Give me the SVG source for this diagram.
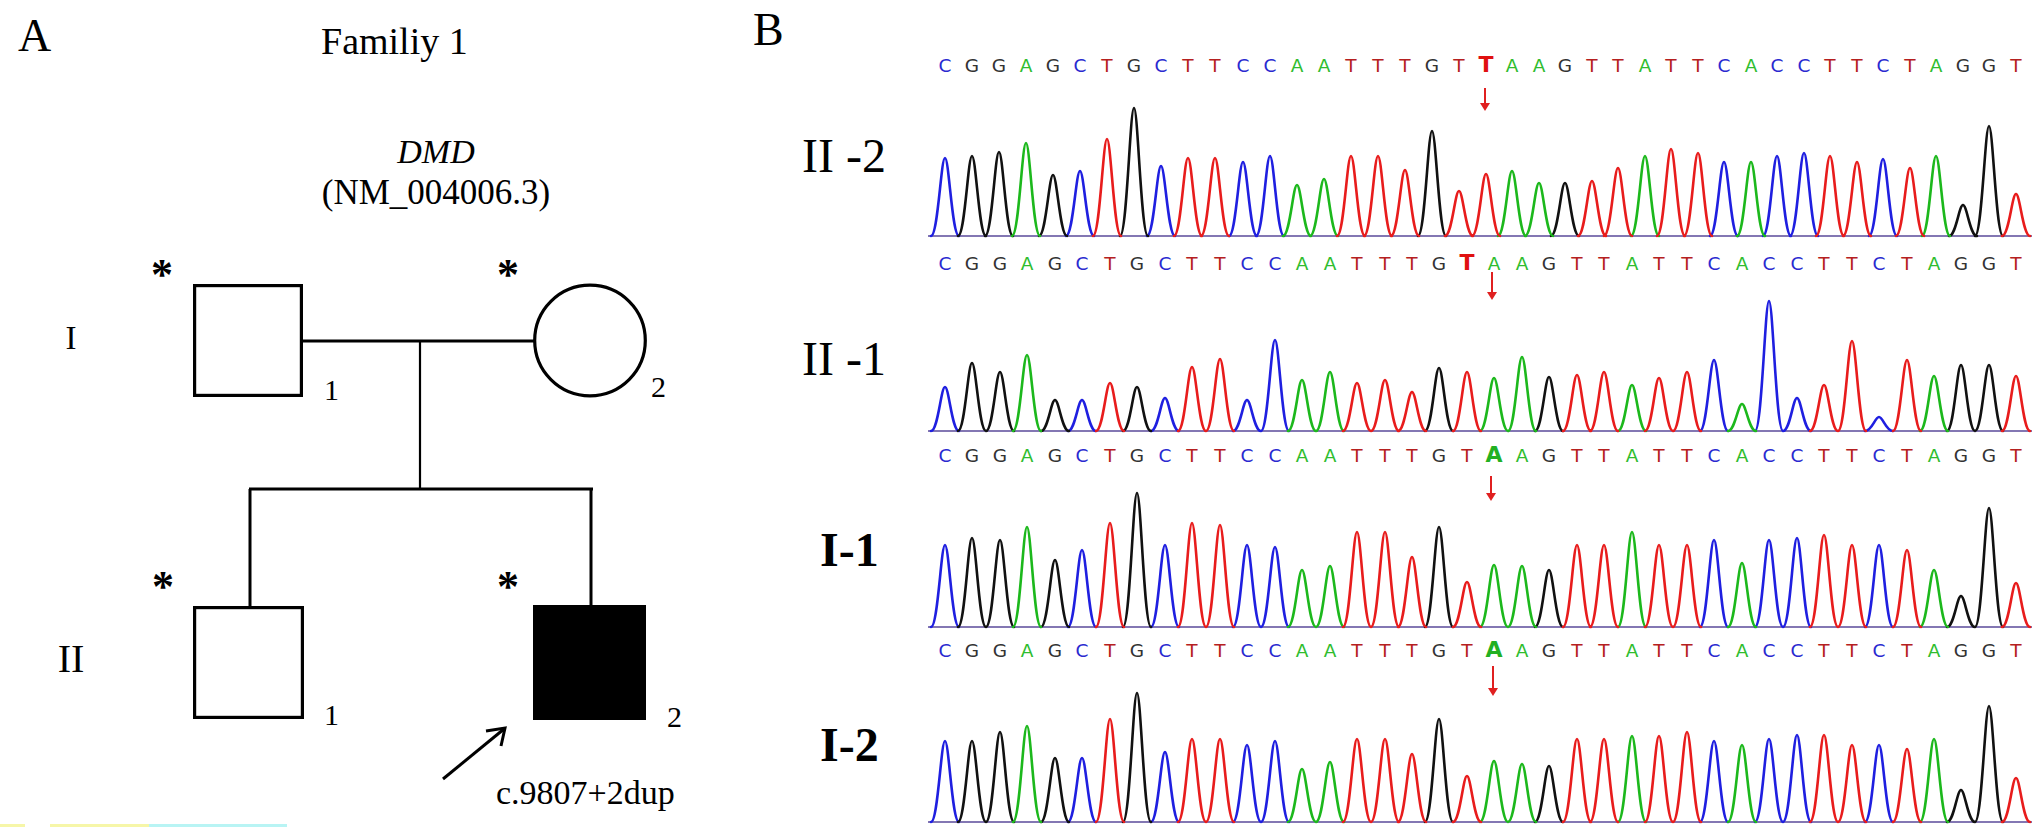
<svg xmlns="http://www.w3.org/2000/svg" width="2032" height="828" viewBox="0 0 2032 828">
<style>
.serif{font-family:"Liberation Serif","Times New Roman",serif;fill:#000}
.ast{font-family:"Liberation Serif","Times New Roman",serif;fill:#000;font-size:44px;font-weight:bold;text-anchor:middle}
.seq{font-family:"DejaVu Sans","Liberation Sans",sans-serif;font-size:18.5px;text-anchor:middle}
.a{fill:#2fbd2f}.c{fill:#2a2ad0}.g{fill:#333}.t{fill:#b52020}
.bt{fill:#e01010;font-weight:bold;font-size:22px}
.ba{fill:#22b022;font-weight:bold;font-size:22px}
.pk{fill:none;stroke-width:2.6;stroke-linejoin:round;stroke-linecap:round}
.pb{stroke:#1f1fe0}.pk0{stroke:#111}.pg{stroke:#1cb81c}.pr{stroke:#e81c1c}
.base{stroke:#5a4a9a;stroke-width:1.3}
.mut{stroke:#e02020;stroke-width:2}
.ped{fill:none;stroke:#000}
</style>
<rect width="2032" height="828" fill="#fff"/>

<!-- Panel A -->
<text class="serif" x="18" y="51" font-size="46">A</text>
<text class="serif" x="321" y="54" font-size="38">Familiy 1</text>
<text class="serif" x="436" y="163" font-size="34" font-style="italic" text-anchor="middle">DMD</text>
<text class="serif" x="436" y="204" font-size="35" text-anchor="middle">(NM_004006.3)</text>
<text class="serif" x="71" y="349" font-size="33" text-anchor="middle">I</text>
<text class="serif" x="71" y="672" font-size="40" text-anchor="middle">II</text>

<g id="connectors" class="ped">
<line x1="303" y1="341" x2="535" y2="341" stroke-width="3.2"/>
<line x1="420" y1="341" x2="420" y2="489" stroke-width="2.2"/>
<line x1="249" y1="489" x2="593" y2="489" stroke-width="3"/>
<line x1="250" y1="489" x2="250" y2="607" stroke-width="3"/>
<line x1="591" y1="489" x2="591" y2="606" stroke-width="3"/>
</g>

<g id="node-I1">
<text class="ast" x="162" y="289">*</text>
<rect x="194.6" y="285.6" width="106.8" height="109.8" class="ped" stroke-width="3.2"/>
<text class="serif" x="324" y="400" font-size="30">1</text>
</g>
<g id="node-I2">
<text class="ast" x="508" y="289">*</text>
<circle cx="590" cy="340.5" r="55.3" class="ped" stroke-width="3.2"/>
<text class="serif" x="651" y="397" font-size="30">2</text>
</g>
<g id="node-II1">
<text class="ast" x="163" y="601">*</text>
<rect x="194.6" y="607.6" width="107.8" height="109.8" class="ped" stroke-width="3.2"/>
<text class="serif" x="324" y="725" font-size="30">1</text>
</g>
<g id="node-II2">
<text class="ast" x="508" y="601">*</text>
<rect x="533" y="605" width="113" height="115" fill="#000"/>
<text class="serif" x="667" y="727" font-size="30">2</text>
</g>
<g id="proband-arrow" class="ped" stroke-width="3">
<line x1="443" y1="779" x2="504" y2="729"/>
<polyline points="486,731 505,728 501,746"/>
</g>
<text class="serif" x="496" y="804" font-size="34">c.9807+2dup</text>
<rect x="0" y="824" width="25" height="3" fill="#f6f6a8"/>
<rect x="50" y="824" width="99" height="3" fill="#f6f6a8"/>
<rect x="149" y="824" width="138" height="3" fill="#b8f4f4"/>

<!-- Panel B -->
<text class="serif" x="753" y="45" font-size="46">B</text>
<text class="serif" x="802" y="172" font-size="48">II -2</text>
<text class="serif" x="802" y="375" font-size="48">II -1</text>
<text class="serif" x="820" y="566" font-size="48" font-weight="bold">I-1</text>
<text class="serif" x="820" y="761" font-size="48" font-weight="bold">I-2</text>

<!-- sequences -->
<text class="seq" y="72"><tspan x="945" class="c">C</tspan><tspan x="972" class="g">G</tspan><tspan x="999" class="g">G</tspan><tspan x="1026" class="a">A</tspan><tspan x="1053" class="g">G</tspan><tspan x="1080" class="c">C</tspan><tspan x="1107" class="t">T</tspan><tspan x="1134" class="g">G</tspan><tspan x="1161" class="c">C</tspan><tspan x="1188" class="t">T</tspan><tspan x="1215" class="t">T</tspan><tspan x="1243" class="c">C</tspan><tspan x="1270" class="c">C</tspan><tspan x="1297" class="a">A</tspan><tspan x="1324" class="a">A</tspan><tspan x="1351" class="t">T</tspan><tspan x="1378" class="t">T</tspan><tspan x="1405" class="t">T</tspan><tspan x="1432" class="g">G</tspan><tspan x="1459" class="t">T</tspan><tspan x="1486" class="bt">T</tspan><tspan x="1512" class="a">A</tspan><tspan x="1539" class="a">A</tspan><tspan x="1565" class="g">G</tspan><tspan x="1592" class="t">T</tspan><tspan x="1618" class="t">T</tspan><tspan x="1645" class="a">A</tspan><tspan x="1671" class="t">T</tspan><tspan x="1698" class="t">T</tspan><tspan x="1724" class="c">C</tspan><tspan x="1751" class="a">A</tspan><tspan x="1777" class="c">C</tspan><tspan x="1804" class="c">C</tspan><tspan x="1830" class="t">T</tspan><tspan x="1857" class="t">T</tspan><tspan x="1883" class="c">C</tspan><tspan x="1910" class="t">T</tspan><tspan x="1936" class="a">A</tspan><tspan x="1963" class="g">G</tspan><tspan x="1989" class="g">G</tspan><tspan x="2016" class="t">T</tspan></text>

<text class="seq" y="270"><tspan x="945" class="c">C</tspan><tspan x="972" class="g">G</tspan><tspan x="1000" class="g">G</tspan><tspan x="1027" class="a">A</tspan><tspan x="1055" class="g">G</tspan><tspan x="1082" class="c">C</tspan><tspan x="1110" class="t">T</tspan><tspan x="1137" class="g">G</tspan><tspan x="1165" class="c">C</tspan><tspan x="1192" class="t">T</tspan><tspan x="1220" class="t">T</tspan><tspan x="1247" class="c">C</tspan><tspan x="1275" class="c">C</tspan><tspan x="1302" class="a">A</tspan><tspan x="1330" class="a">A</tspan><tspan x="1357" class="t">T</tspan><tspan x="1385" class="t">T</tspan><tspan x="1412" class="t">T</tspan><tspan x="1439" class="g">G</tspan><tspan x="1467" class="bt">T</tspan><tspan x="1494" class="a">A</tspan><tspan x="1522" class="a">A</tspan><tspan x="1549" class="g">G</tspan><tspan x="1577" class="t">T</tspan><tspan x="1604" class="t">T</tspan><tspan x="1632" class="a">A</tspan><tspan x="1659" class="t">T</tspan><tspan x="1687" class="t">T</tspan><tspan x="1714" class="c">C</tspan><tspan x="1742" class="a">A</tspan><tspan x="1769" class="c">C</tspan><tspan x="1797" class="c">C</tspan><tspan x="1824" class="t">T</tspan><tspan x="1852" class="t">T</tspan><tspan x="1879" class="c">C</tspan><tspan x="1907" class="t">T</tspan><tspan x="1934" class="a">A</tspan><tspan x="1961" class="g">G</tspan><tspan x="1989" class="g">G</tspan><tspan x="2016" class="t">T</tspan></text>

<text class="seq" y="462"><tspan x="945" class="c">C</tspan><tspan x="972" class="g">G</tspan><tspan x="1000" class="g">G</tspan><tspan x="1027" class="a">A</tspan><tspan x="1055" class="g">G</tspan><tspan x="1082" class="c">C</tspan><tspan x="1110" class="t">T</tspan><tspan x="1137" class="g">G</tspan><tspan x="1165" class="c">C</tspan><tspan x="1192" class="t">T</tspan><tspan x="1220" class="t">T</tspan><tspan x="1247" class="c">C</tspan><tspan x="1275" class="c">C</tspan><tspan x="1302" class="a">A</tspan><tspan x="1330" class="a">A</tspan><tspan x="1357" class="t">T</tspan><tspan x="1385" class="t">T</tspan><tspan x="1412" class="t">T</tspan><tspan x="1439" class="g">G</tspan><tspan x="1467" class="t">T</tspan><tspan x="1494" class="ba">A</tspan><tspan x="1522" class="a">A</tspan><tspan x="1549" class="g">G</tspan><tspan x="1577" class="t">T</tspan><tspan x="1604" class="t">T</tspan><tspan x="1632" class="a">A</tspan><tspan x="1659" class="t">T</tspan><tspan x="1687" class="t">T</tspan><tspan x="1714" class="c">C</tspan><tspan x="1742" class="a">A</tspan><tspan x="1769" class="c">C</tspan><tspan x="1797" class="c">C</tspan><tspan x="1824" class="t">T</tspan><tspan x="1852" class="t">T</tspan><tspan x="1879" class="c">C</tspan><tspan x="1907" class="t">T</tspan><tspan x="1934" class="a">A</tspan><tspan x="1961" class="g">G</tspan><tspan x="1989" class="g">G</tspan><tspan x="2016" class="t">T</tspan></text>

<text class="seq" y="657"><tspan x="945" class="c">C</tspan><tspan x="972" class="g">G</tspan><tspan x="1000" class="g">G</tspan><tspan x="1027" class="a">A</tspan><tspan x="1055" class="g">G</tspan><tspan x="1082" class="c">C</tspan><tspan x="1110" class="t">T</tspan><tspan x="1137" class="g">G</tspan><tspan x="1165" class="c">C</tspan><tspan x="1192" class="t">T</tspan><tspan x="1220" class="t">T</tspan><tspan x="1247" class="c">C</tspan><tspan x="1275" class="c">C</tspan><tspan x="1302" class="a">A</tspan><tspan x="1330" class="a">A</tspan><tspan x="1357" class="t">T</tspan><tspan x="1385" class="t">T</tspan><tspan x="1412" class="t">T</tspan><tspan x="1439" class="g">G</tspan><tspan x="1467" class="t">T</tspan><tspan x="1494" class="ba">A</tspan><tspan x="1522" class="a">A</tspan><tspan x="1549" class="g">G</tspan><tspan x="1577" class="t">T</tspan><tspan x="1604" class="t">T</tspan><tspan x="1632" class="a">A</tspan><tspan x="1659" class="t">T</tspan><tspan x="1687" class="t">T</tspan><tspan x="1714" class="c">C</tspan><tspan x="1742" class="a">A</tspan><tspan x="1769" class="c">C</tspan><tspan x="1797" class="c">C</tspan><tspan x="1824" class="t">T</tspan><tspan x="1852" class="t">T</tspan><tspan x="1879" class="c">C</tspan><tspan x="1907" class="t">T</tspan><tspan x="1934" class="a">A</tspan><tspan x="1961" class="g">G</tspan><tspan x="1989" class="g">G</tspan><tspan x="2016" class="t">T</tspan></text>

<!-- mutation arrows -->
<g fill="#e02020">
<line class="mut" x1="1485" y1="88" x2="1485" y2="104"/><polygon points="1480,103 1490,103 1485,111"/>
<line class="mut" x1="1492" y1="272" x2="1492" y2="293"/><polygon points="1487,292 1497,292 1492,300"/>
<line class="mut" x1="1491" y1="476" x2="1491" y2="494"/><polygon points="1486,493 1496,493 1491,501"/>
<line class="mut" x1="1493" y1="666" x2="1493" y2="689"/><polygon points="1488,688 1498,688 1493,696"/>
</g>

<!-- baselines -->
<line class="base" x1="928" y1="236" x2="2032" y2="236"/>
<line class="base" x1="928" y1="431" x2="2032" y2="431"/>
<line class="base" x1="928" y1="627" x2="2032" y2="627"/>
<line class="base" x1="928" y1="822" x2="2032" y2="822"/>

<!-- Row 1 II-2 -->
<path class="pk pb" d="M931,236c7,0 10,-78 14,-78s7,78 14,78M1066,236c7,0 10,-65 14,-65s7,65 14,65M1147,236c7,0 10,-70 14,-70s7,70 14,70M1229,236c7,0 10,-74 14,-74s7,74 14,74M1256,236c7,0 10,-80 14,-80s7,80 14,80M1710,236c7,0 10,-74 14,-74s7,74 14,74M1763,236c7,0 10,-80 14,-80s7,80 14,80M1790,236c7,0 10,-83 14,-83s7,83 14,83M1869,236c7,0 10,-77 14,-77s7,77 14,77"/>
<path class="pk pk0" d="M958,236c7,0 10,-80 14,-80s7,80 14,80M985,236c7,0 10,-84 14,-84s7,84 14,84M1039,236c7,0 10,-61 14,-61s7,61 14,61M1120,236c7,0 10,-128 14,-128s7,128 14,128M1418,236c7,0 10,-105 14,-105s7,105 14,105M1551,236c7,0 10,-53 14,-53s7,53 14,53M1949,236c7,0 10,-31 14,-31s7,31 14,31M1975,236c7,0 10,-110 14,-110s7,110 14,110"/>
<path class="pk pg" d="M1012,236c7,0 10,-93 14,-93s7,93 14,93M1283,236c7,0 10,-51 14,-51s7,51 14,51M1310,236c7,0 10,-57 14,-57s7,57 14,57M1498,236c7,0 10,-65 14,-65s7,65 14,65M1525,236c7,0 10,-53 14,-53s7,53 14,53M1631,236c7,0 10,-80 14,-80s7,80 14,80M1737,236c7,0 10,-74 14,-74s7,74 14,74M1922,236c7,0 10,-80 14,-80s7,80 14,80"/>
<path class="pk pr" d="M1093,236c7,0 10,-97 14,-97s7,97 14,97M1174,236c7,0 10,-78 14,-78s7,78 14,78M1201,236c7,0 10,-78 14,-78s7,78 14,78M1337,236c7,0 10,-80 14,-80s7,80 14,80M1364,236c7,0 10,-80 14,-80s7,80 14,80M1391,236c7,0 10,-66 14,-66s7,66 14,66M1445,236c7,0 10,-45 14,-45s7,45 14,45M1472,236c7,0 10,-62 14,-62s7,62 14,62M1578,236c7,0 10,-55 14,-55s7,55 14,55M1604,236c7,0 10,-68 14,-68s7,68 14,68M1657,236c7,0 10,-87 14,-87s7,87 14,87M1684,236c7,0 10,-83 14,-83s7,83 14,83M1816,236c7,0 10,-80 14,-80s7,80 14,80M1843,236c7,0 10,-74 14,-74s7,74 14,74M1896,236c7,0 10,-68 14,-68s7,68 14,68M2002,236c7,0 10,-42 14,-42s7,42 14,42"/>

<!-- Row 2 II-1 -->
<path class="pk pb" d="M931,431c7,0 10,-44 14,-44s7,44 14,44M1068,431c7,0 10,-31 14,-31s7,31 14,31M1151,431c7,0 10,-33 14,-33s7,33 14,33M1233,431c7,0 10,-31 14,-31s7,31 14,31M1261,431c7,0 10,-91 14,-91s7,91 14,91M1700,431c7,0 10,-71 14,-71s7,71 14,71M1755,431c7,0 10,-130 14,-130s7,130 14,130M1783,431c7,0 10,-33 14,-33s7,33 14,33M1865,431c7,0 10,-14 14,-14s7,14 14,14"/>
<path class="pk pk0" d="M958,431c7,0 10,-68 14,-68s7,68 14,68M986,431c7,0 10,-59 14,-59s7,59 14,59M1041,431c7,0 10,-31 14,-31s7,31 14,31M1123,431c7,0 10,-44 14,-44s7,44 14,44M1425,431c7,0 10,-63 14,-63s7,63 14,63M1535,431c7,0 10,-54 14,-54s7,54 14,54M1947,431c7,0 10,-66 14,-66s7,66 14,66M1975,431c7,0 10,-66 14,-66s7,66 14,66"/>
<path class="pk pg" d="M1013,431c7,0 10,-76 14,-76s7,76 14,76M1288,431c7,0 10,-51 14,-51s7,51 14,51M1316,431c7,0 10,-59 14,-59s7,59 14,59M1480,431c7,0 10,-53 14,-53s7,53 14,53M1508,431c7,0 10,-74 14,-74s7,74 14,74M1618,431c7,0 10,-46 14,-46s7,46 14,46M1728,431c7,0 10,-27 14,-27s7,27 14,27M1920,431c7,0 10,-55 14,-55s7,55 14,55"/>
<path class="pk pr" d="M1096,431c7,0 10,-48 14,-48s7,48 14,48M1178,431c7,0 10,-64 14,-64s7,64 14,64M1206,431c7,0 10,-72 14,-72s7,72 14,72M1343,431c7,0 10,-48 14,-48s7,48 14,48M1371,431c7,0 10,-51 14,-51s7,51 14,51M1398,431c7,0 10,-39 14,-39s7,39 14,39M1453,431c7,0 10,-59 14,-59s7,59 14,59M1563,431c7,0 10,-56 14,-56s7,56 14,56M1590,431c7,0 10,-59 14,-59s7,59 14,59M1645,431c7,0 10,-53 14,-53s7,53 14,53M1673,431c7,0 10,-59 14,-59s7,59 14,59M1810,431c7,0 10,-46 14,-46s7,46 14,46M1838,431c7,0 10,-90 14,-90s7,90 14,90M1893,431c7,0 10,-71 14,-71s7,71 14,71M2002,431c7,0 10,-55 14,-55s7,55 14,55"/>

<!-- Row 3 I-1 -->
<path class="pk pb" d="M931,627c7,0 10,-82 14,-82s7,82 14,82M1068,627c7,0 10,-77 14,-77s7,77 14,77M1151,627c7,0 10,-82 14,-82s7,82 14,82M1233,627c7,0 10,-82 14,-82s7,82 14,82M1261,627c7,0 10,-80 14,-80s7,80 14,80M1700,627c7,0 10,-87 14,-87s7,87 14,87M1755,627c7,0 10,-87 14,-87s7,87 14,87M1783,627c7,0 10,-89 14,-89s7,89 14,89M1865,627c7,0 10,-82 14,-82s7,82 14,82"/>
<path class="pk pk0" d="M958,627c7,0 10,-89 14,-89s7,89 14,89M986,627c7,0 10,-87 14,-87s7,87 14,87M1041,627c7,0 10,-67 14,-67s7,67 14,67M1123,627c7,0 10,-134 14,-134s7,134 14,134M1425,627c7,0 10,-100 14,-100s7,100 14,100M1535,627c7,0 10,-57 14,-57s7,57 14,57M1947,627c7,0 10,-31 14,-31s7,31 14,31M1975,627c7,0 10,-119 14,-119s7,119 14,119"/>
<path class="pk pg" d="M1013,627c7,0 10,-100 14,-100s7,100 14,100M1288,627c7,0 10,-57 14,-57s7,57 14,57M1316,627c7,0 10,-61 14,-61s7,61 14,61M1480,627c7,0 10,-62 14,-62s7,62 14,62M1508,627c7,0 10,-61 14,-61s7,61 14,61M1618,627c7,0 10,-95 14,-95s7,95 14,95M1728,627c7,0 10,-64 14,-64s7,64 14,64M1920,627c7,0 10,-57 14,-57s7,57 14,57"/>
<path class="pk pr" d="M1096,627c7,0 10,-104 14,-104s7,104 14,104M1178,627c7,0 10,-104 14,-104s7,104 14,104M1206,627c7,0 10,-102 14,-102s7,102 14,102M1343,627c7,0 10,-95 14,-95s7,95 14,95M1371,627c7,0 10,-95 14,-95s7,95 14,95M1398,627c7,0 10,-70 14,-70s7,70 14,70M1453,627c7,0 10,-45 14,-45s7,45 14,45M1563,627c7,0 10,-82 14,-82s7,82 14,82M1590,627c7,0 10,-82 14,-82s7,82 14,82M1645,627c7,0 10,-82 14,-82s7,82 14,82M1673,627c7,0 10,-82 14,-82s7,82 14,82M1810,627c7,0 10,-92 14,-92s7,92 14,92M1838,627c7,0 10,-82 14,-82s7,82 14,82M1893,627c7,0 10,-77 14,-77s7,77 14,77M2002,627c7,0 10,-44 14,-44s7,44 14,44"/>

<!-- Row 4 I-2 -->
<path class="pk pb" d="M931,822c7,0 10,-81 14,-81s7,81 14,81M1068,822c7,0 10,-64 14,-64s7,64 14,64M1151,822c7,0 10,-70 14,-70s7,70 14,70M1233,822c7,0 10,-77 14,-77s7,77 14,77M1261,822c7,0 10,-81 14,-81s7,81 14,81M1700,822c7,0 10,-81 14,-81s7,81 14,81M1755,822c7,0 10,-83 14,-83s7,83 14,83M1783,822c7,0 10,-87 14,-87s7,87 14,87M1865,822c7,0 10,-77 14,-77s7,77 14,77"/>
<path class="pk pk0" d="M958,822c7,0 10,-81 14,-81s7,81 14,81M986,822c7,0 10,-90 14,-90s7,90 14,90M1041,822c7,0 10,-64 14,-64s7,64 14,64M1123,822c7,0 10,-129 14,-129s7,129 14,129M1425,822c7,0 10,-103 14,-103s7,103 14,103M1535,822c7,0 10,-56 14,-56s7,56 14,56M1947,822c7,0 10,-32 14,-32s7,32 14,32M1975,822c7,0 10,-116 14,-116s7,116 14,116"/>
<path class="pk pg" d="M1013,822c7,0 10,-96 14,-96s7,96 14,96M1288,822c7,0 10,-53 14,-53s7,53 14,53M1316,822c7,0 10,-60 14,-60s7,60 14,60M1480,822c7,0 10,-61 14,-61s7,61 14,61M1508,822c7,0 10,-58 14,-58s7,58 14,58M1618,822c7,0 10,-86 14,-86s7,86 14,86M1728,822c7,0 10,-77 14,-77s7,77 14,77M1920,822c7,0 10,-83 14,-83s7,83 14,83"/>
<path class="pk pr" d="M1096,822c7,0 10,-103 14,-103s7,103 14,103M1178,822c7,0 10,-83 14,-83s7,83 14,83M1206,822c7,0 10,-83 14,-83s7,83 14,83M1343,822c7,0 10,-83 14,-83s7,83 14,83M1371,822c7,0 10,-83 14,-83s7,83 14,83M1398,822c7,0 10,-68 14,-68s7,68 14,68M1453,822c7,0 10,-46 14,-46s7,46 14,46M1563,822c7,0 10,-83 14,-83s7,83 14,83M1590,822c7,0 10,-83 14,-83s7,83 14,83M1645,822c7,0 10,-86 14,-86s7,86 14,86M1673,822c7,0 10,-90 14,-90s7,90 14,90M1810,822c7,0 10,-87 14,-87s7,87 14,87M1838,822c7,0 10,-77 14,-77s7,77 14,77M1893,822c7,0 10,-73 14,-73s7,73 14,73M2002,822c7,0 10,-44 14,-44s7,44 14,44"/>
</svg>
